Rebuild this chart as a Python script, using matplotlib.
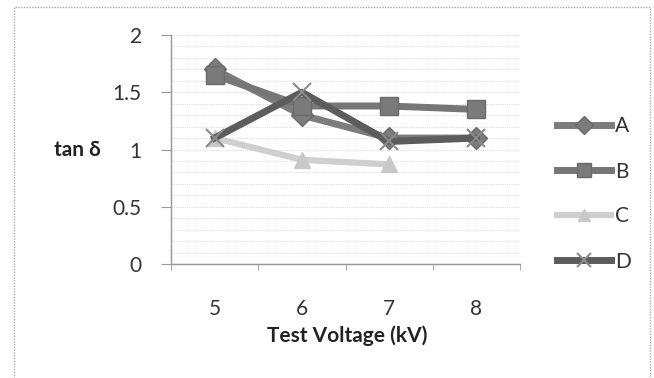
import matplotlib.pyplot as plt
from matplotlib.patches import Rectangle

# data
voltages = ["5", "6", "7", "8"]
series_a = [1.70, 1.30, 1.10, 1.10]
series_b = [1.65, 1.38, 1.38, 1.35]
series_c = [1.10, 0.91, 0.87]
series_d = [1.10, 1.50, 1.07, 1.10]
names = ["A", "B", "C", "D"]
y_ticks = [0, 0.5, 1, 1.5, 2]
y_labels = ["0", "0.5", "1", "1.5", "2"]

plt.rcParams['font.family'] = ['Lato', 'DejaVu Sans']

fig = plt.figure(figsize=(6.54, 3.78), dpi=100)
ax = fig.add_axes([171 / 654, 1 - 264 / 378, 349 / 654, 229 / 378])

x = list(range(len(voltages)))
ax.plot(x, series_a, color='#7c7c7c', lw=5, marker='D', ms=11,
        mfc='#7c7c7c', mec='#6a6a6a', label=names[0], zorder=3)
ax.plot(x, series_b, color='#767676', lw=5, marker='s', ms=13,
        mfc='#7a7a7a', mec='#6a6a6a', label=names[1], zorder=3)
ax.plot(x[:len(series_c)], series_c, color='#cfcfcf', lw=4.5, marker='^', ms=11,
        mfc='#c8c8c8', mec='#c8c8c8', label=names[2], zorder=2)
ax.plot(x, series_d, color='#5c5c5c', lw=5, marker='x', ms=13, mew=1.5,
        mec='#8a8a8a', label=names[3], zorder=4)

ax.set_xlim(-0.5, len(voltages) - 0.5)
ax.set_ylim(0, 2)
ax.set_xticks(x)
ax.set_xticklabels(voltages)
ax.set_xticks([i - 0.5 for i in range(len(voltages) + 1)], minor=True)
ax.set_yticks(y_ticks)
ax.set_yticklabels(y_labels)
ax.set_yticks([i / 10 for i in range(21)], minor=True)

ax.tick_params(axis='x', which='major', length=0, pad=25, labelsize=15, labelcolor='#333333')
ax.tick_params(axis='x', which='minor', length=4, color='#999999', direction='out')
ax.tick_params(axis='y', which='major', length=7, color='#999999', pad=14,
               labelsize=15, labelcolor='#333333')
ax.tick_params(axis='y', which='minor', length=0)

ax.grid(axis='y', which='both', color='#dddddd', lw=0.8, ls=(0, (1, 1)))
ax.set_axisbelow(True)
for s in ['top', 'right']:
    ax.spines[s].set_visible(False)
for s in ['left', 'bottom']:
    ax.spines[s].set_color('#9a9a9a')
    ax.spines[s].set_linewidth(1.0)
    ax.spines[s].set_linestyle((0, (1, 0.6)))

ax.set_xlabel("Test Voltage (kV)", fontsize=15, fontweight='bold', color='#222222')
ax.xaxis.set_label_coords((347 - 171) / 349, -(336 - 264) / 229)
ax.xaxis.label.set_va('center')
ax.set_ylabel("tan δ", fontsize=15, fontweight='bold', rotation=0, color='#222222')
ax.yaxis.set_label_coords((77 - 171) / 349, (264 - 150) / 229)
ax.yaxis.label.set_va('center')
ax.yaxis.label.set_ha('center')

fig.legend(loc='center left', bbox_to_anchor=(557 / 654, 1 - 194 / 378),
           frameon=False, fontsize=15, handlelength=2.6, handletextpad=0.2,
           labelspacing=1.2, borderpad=0, borderaxespad=0, labelcolor='#333333',
           markerscale=0.8)

fig.patches.append(Rectangle((14 / 654, -0.05), (650 - 14) / 654, 1.05 - 7 / 378,
                             transform=fig.transFigure, fill=False,
                             ec='#aaaaaa', lw=1, ls=(0, (1, 1))))

fig.savefig('out.png', dpi=100)
